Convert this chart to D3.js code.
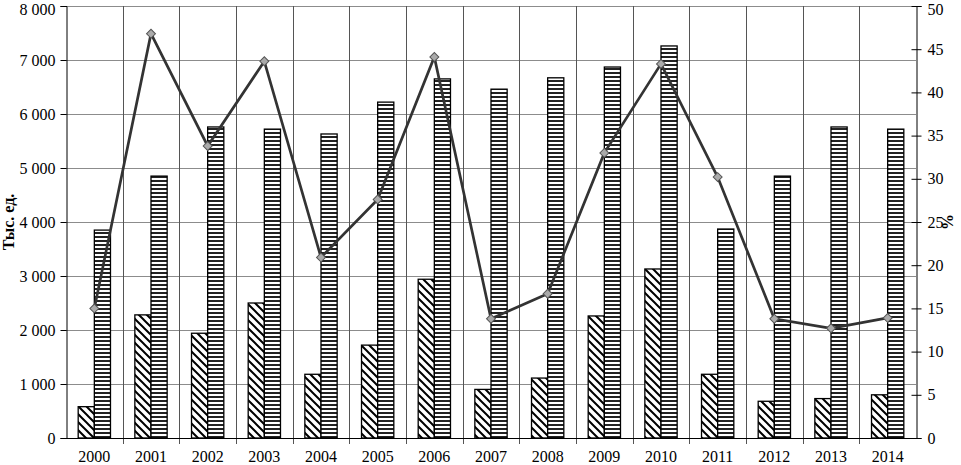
<!DOCTYPE html>
<html>
<head>
<meta charset="utf-8">
<script src="https://cdn.jsdelivr.net/npm/d3@7"></script>
<style>
  body { margin: 0; background: #fff; }
  svg text { font-family: "Liberation Serif", "DejaVu Serif", serif; }
</style>
</head>
<body>
<script>
const years = ['2000', '2001', '2002', '2003', '2004', '2005', '2006', '2007',
  '2008', '2009', '2010', '2011', '2012', '2013', '2014'];

// thousand units, diagonal-hatched bars
const hatchValues = [580, 2280, 1940, 2500, 1180, 1720, 2940, 900, 1110, 2260, 3130, 1180, 680, 730, 800];

// thousand units, striped bars
const stripeValues = [3850, 4850, 5760, 5720, 5630, 6220, 6650, 6460, 6670, 6870, 7260, 3870, 4850, 5760, 5720];

// percent, line on right axis
const percentValues = [15.0, 46.8, 33.8, 43.6, 20.9, 27.6, 44.1, 13.8, 16.7, 33.0, 43.3, 30.2, 13.8, 12.7, 13.9];

const leftTicks = [0, 1000, 2000, 3000, 4000, 5000, 6000, 7000, 8000];
const rightTicks = [0, 5, 10, 15, 20, 25, 30, 35, 40, 45, 50];

const width = 961;
const height = 465;
const margin = { top: 6, right: 45, bottom: 27, left: 66 };

const svg = d3.select('body').append('svg')
  .attr('width', width)
  .attr('height', height);

const defs = svg.append('defs');

const hatch = defs.append('pattern')
  .attr('id', 'hatch')
  .attr('patternUnits', 'userSpaceOnUse')
  .attr('width', 8)
  .attr('height', 8);
hatch.append('rect').attr('width', 8).attr('height', 8).attr('fill', '#fff');
hatch.append('path')
  .attr('d', 'M-1,-1 L9,9 M-1,7 L1,9 M7,-1 L9,1')
  .attr('stroke', '#000')
  .attr('stroke-width', 2);

const stripe = defs.append('pattern')
  .attr('id', 'stripe')
  .attr('patternUnits', 'userSpaceOnUse')
  .attr('width', 4)
  .attr('height', 4);
stripe.append('rect').attr('width', 4).attr('height', 4).attr('fill', '#fff');
stripe.append('rect').attr('y', 0).attr('width', 4).attr('height', 2).attr('fill', '#222');

const x0 = margin.left;
const x1 = width - margin.right;
const yTop = margin.top;
const yBottom = height - margin.bottom;

const x = d3.scaleBand()
  .domain(years)
  .range([x0, x1]);

const y = d3.scaleLinear()
  .domain([0, 8000])
  .range([yBottom, yTop]);

const yRight = d3.scaleLinear()
  .domain([0, 50])
  .range([yBottom, yTop]);

const fmt = d => d3.format(',')(d).replace(/,/g, '\u00a0');

// horizontal gridlines
svg.append('g')
  .selectAll('line')
  .data(leftTicks.slice(1))
  .enter().append('line')
    .attr('x1', x0)
    .attr('x2', x1)
    .attr('y1', d => Math.round(y(d)) + 0.5)
    .attr('y2', d => Math.round(y(d)) + 0.5)
    .attr('stroke', '#8c8c8c')
    .attr('stroke-width', 1);

// vertical gridlines at category borders
svg.append('g')
  .selectAll('line')
  .data(years.slice(1))
  .enter().append('line')
    .attr('x1', d => Math.round(x(d)) + 0.5)
    .attr('x2', d => Math.round(x(d)) + 0.5)
    .attr('y1', yTop)
    .attr('y2', yBottom + 6)
    .attr('stroke', '#555')
    .attr('stroke-width', 1);

const barW = x.bandwidth() * 0.285;

const groups = svg.append('g')
  .selectAll('g')
  .data(years)
  .enter().append('g');

groups.append('rect')
  .attr('x', d => x(d) + x.bandwidth() / 2 - barW)
  .attr('y', (d, i) => y(hatchValues[i]))
  .attr('width', barW)
  .attr('height', (d, i) => yBottom - y(hatchValues[i]))
  .attr('fill', 'url(#hatch)')
  .attr('stroke', '#000')
  .attr('stroke-width', 1.3);

groups.append('rect')
  .attr('x', d => x(d) + x.bandwidth() / 2)
  .attr('y', (d, i) => y(stripeValues[i]))
  .attr('width', barW)
  .attr('height', (d, i) => yBottom - y(stripeValues[i]))
  .attr('fill', 'url(#stripe)')
  .attr('stroke', '#000')
  .attr('stroke-width', 1.3);

// axes
const leftAxis = d3.axisLeft(y).tickValues(leftTicks).tickFormat(fmt).tickSize(6).tickPadding(5);
const gl = svg.append('g')
  .attr('transform', `translate(${x0 + 0.5},0)`)
  .call(leftAxis);

const rightAxis = d3.axisRight(yRight).tickValues(rightTicks).tickSize(5).tickPadding(6);
const gr = svg.append('g')
  .attr('transform', `translate(${x1 + 0.5},0)`)
  .call(rightAxis);
gr.selectAll('.tick line').attr('x1', -5);

const bottomAxis = d3.axisBottom(x).tickSize(0).tickPadding(12);
const gb = svg.append('g')
  .attr('transform', `translate(0,${yBottom + 0.5})`)
  .call(bottomAxis);

[gl, gr, gb].forEach((g) => {
  g.select('.domain').attr('stroke', '#000').attr('stroke-width', 1);
  g.selectAll('.tick line').attr('stroke', '#000');
  g.selectAll('text')
    .attr('font-size', 16)
    .attr('fill', '#000')
    .style('font-family', '"Liberation Serif", serif');
});
gb.select('.domain').attr('d', `M${x0},0H${x1}`);

// keep the topmost labels inside the window
gl.selectAll('.tick text').filter(d => d === 8000).attr('dy', '0.55em');
gr.selectAll('.tick text').filter(d => d === 50).attr('dy', '0.55em');

// axis titles
svg.append('text')
  .attr('transform', `translate(14,${(yTop + yBottom) / 2}) rotate(-90)`)
  .attr('text-anchor', 'middle')
  .attr('font-size', 16)
  .attr('font-weight', 'bold')
  .text('Тыс. ед.');

svg.append('text')
  .attr('transform', `translate(953,${(yTop + yBottom) / 2}) rotate(-90)`)
  .attr('text-anchor', 'middle')
  .attr('font-size', 16)
  .attr('font-weight', 'bold')
  .text('%');

// percent line
const line = d3.line()
  .x((d, i) => x(years[i]) + x.bandwidth() / 2)
  .y(d => yRight(d));

svg.append('path')
  .datum(percentValues)
  .attr('d', line)
  .attr('fill', 'none')
  .attr('stroke', '#333')
  .attr('stroke-width', 2.7);

svg.append('g')
  .selectAll('path')
  .data(percentValues)
  .enter().append('path')
    .attr('d', d3.symbol().type(d3.symbolSquare).size(40))
    .attr('transform', (d, i) => `translate(${x(years[i]) + x.bandwidth() / 2},${yRight(d)}) rotate(45)`)
    .attr('fill', '#aaa')
    .attr('stroke', '#555')
    .attr('stroke-width', 1);
</script>
</body>
</html>
